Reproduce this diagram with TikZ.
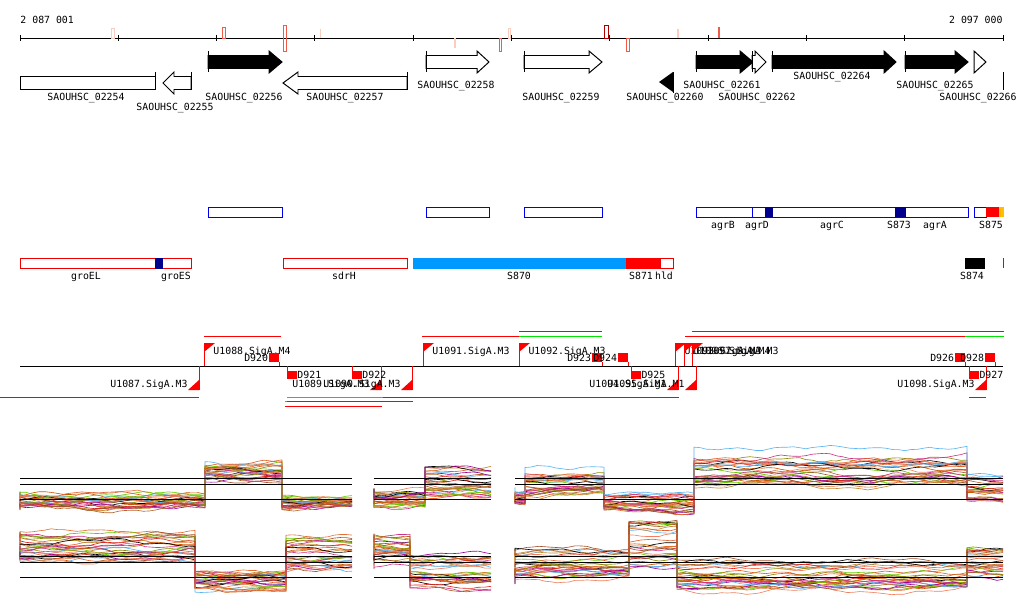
\documentclass[tikz,border=0pt]{standalone}
\usepackage{fontspec}
\newfontfamily\pixfont{DejaVu Sans Mono}
\usetikzlibrary{calc}
\definecolor{featred}{RGB}{238,0,0}
\definecolor{featblue}{RGB}{0,0,238}
\definecolor{navyblk}{RGB}{0,0,140}
\definecolor{skyfill}{RGB}{0,153,255}
\definecolor{amber}{RGB}{255,190,0}
\definecolor{promred}{RGB}{255,0,0}
\definecolor{promgreen}{RGB}{0,230,0}
\definecolor{peach}{RGB}{250,205,190}
\definecolor{salmon}{RGB}{240,90,70}
\definecolor{darkred}{RGB}{170,0,0}
% palette for the expression curves
\definecolor{pal0}{RGB}{0,0,0}
\definecolor{pal1}{RGB}{224,96,42}
\definecolor{pal2}{RGB}{160,82,45}
\definecolor{pal3}{RGB}{139,139,0}
\definecolor{pal4}{RGB}{102,204,0}
\definecolor{pal5}{RGB}{153,0,153}
\definecolor{pal6}{RGB}{204,51,136}
\definecolor{pal7}{RGB}{91,181,240}
\definecolor{pal8}{RGB}{230,110,50}
\definecolor{pal9}{RGB}{192,136,48}
\definecolor{pal10}{RGB}{221,34,34}
\definecolor{pal11}{RGB}{240,128,96}
\definecolor{pal12}{RGB}{180,100,40}
\definecolor{pal13}{RGB}{204,85,0}
\tikzset{
    lbl/.style = {font=\pixfont\fontsize{7}{8}\selectfont, inner sep=0pt, anchor=base},
    lblw/.style = {lbl, anchor=base west},
    lble/.style = {lbl, anchor=base east},
    genebody/.style = {draw=black},
    featbox/.style = {draw=featred},
    bluebox/.style = {draw=featblue},
    prom/.style = {draw=promred},
    tline/.style = {draw=promred},
    gline/.style = {draw=promgreen},
    exprline/.style = {line width=0.45pt},
    refline/.style = {draw=black, line width=0.6pt}
}
% forward gene: x0, tip, head start, y, fill
\def\genefwd#1#2#3#4#5{%
    \draw[genebody, fill=#5] (#1,#4-6.5) -- (#3,#4-6.5) -- (#3,#4-11) -- (#2,#4) -- (#3,#4+11) -- (#3,#4+6.5) -- (#1,#4+6.5) -- cycle;
    \draw[genebody] (#1,#4-11) -- (#1,#4+10);
}
% reverse gene: x0, tip, head start, y, fill
\def\generev#1#2#3#4#5{%
    \draw[genebody, fill=#5] (#1,#4-6.5) -- (#3,#4-6.5) -- (#3,#4-11) -- (#2,#4) -- (#3,#4+11) -- (#3,#4+6.5) -- (#1,#4+6.5) -- cycle;
    \draw[genebody] (#1,#4-11) -- (#1,#4+7);
}
\def\fprom#1#2#3{%
    \draw[prom] (#1,366) -- (#1,343);
    \fill[promred] (#1,343) -- ++(11,0) -- (#1,352) -- cycle;
    \node[lblw] (#2) at (#1+9,354) {#3};
}
\def\rprom#1#2#3{%
    \draw[prom] (#1,366) -- (#1,390);
    \fill[promred] (#1,390) -- ++(-11,0) -- (#1,380) -- cycle;
    \node[lble] (#2) at (#1-11,387) {#3};
}
\def\tabove#1#2#3{%
    \fill[promred] (#1,353) rectangle ++(10,9);
    \draw[prom] (#1+10,362) -- (#1+10,366);
    \node[lble] (#2) at (#1-0.5,361) {#3};
}
\def\tbelow#1#2#3{%
    \fill[promred] (#1,371) rectangle ++(10,8);
    \draw[prom] (#1,366) -- (#1,371);
    \node[lblw] (#2) at (#1+10,378) {#3};
}
% seed, x start, y low, y high, segments xa/xb/ya/yb/steps
\newcommand{\exprpanel}[5]{%
    \pgfmathsetseed{#1}
    \foreach \k in {1,...,28} {
        \pgfmathsetmacro{\fa}{rnd}
        \pgfmathsetmacro{\fb}{rnd}
        \pgfmathsetmacro{\ph}{360*rnd}
        \pgfmathsetmacro{\am}{1+2.5*rnd}
        \pgfmathtruncatemacro{\ci}{mod(\k*5+#1,14)}
        \draw[exprline, pal\ci] (#2,{#3+(#4-#3)*\fa})
            \foreach \xa/\xb/\ya/\yb/\ns [count=\sg] in {#5} {
                \foreach \i in {0,...,\ns} {
                    -- ({\xa+(\xb-\xa)*\i/\ns},{\ya+(\yb-\ya)*(\fa+(\fb-\fa)*0.4*mod(\sg,2))
                        +\am*sin((\xa+(\xb-\xa)*\i/\ns)*2.2+\ph)
                        +1.2*sin((\xa+(\xb-\xa)*\i/\ns)*7.5+2*\ph)+0.5*rand})
                }
            };
    }
}

\begin{document}
\begin{tikzpicture}[x=0.025cm, y=-0.025cm, line width=0.7pt]
    \useasboundingbox (0,0) rectangle (1024,611);
    \fill[white] (0,0) rectangle (1024,611);

    % ruler
    \node[lblw] (rstart) at (20,24) {2 087 001};
    \node[lble] (rend) at (1003,24) {2 097 000};
    \draw (20,38) -- (1003,38);
    \foreach \t in {0,...,10}
        \draw ({20+98.3*\t},35) -- ++(0,6);
    \draw[peach] (111.5,28) rectangle (114.5,38);
    \draw[salmon] (222.5,27) rectangle (225,38);
    \draw[salmon] (283,25) rectangle (286,51);
    \draw[peach, line width=1.4pt] (320.5,29) -- (320.5,38);
    \draw[peach, line width=1.4pt] (455,38) -- (455,48);
    \draw[salmon] (499,38) rectangle (501.5,51);
    \draw[peach] (508,28) rectangle (510.5,38);
    \draw[darkred] (604.5,25) rectangle (608.5,38);
    \draw[salmon] (626,38) rectangle (629,51);
    \draw[peach, line width=1.4pt] (678,29) -- (678,38);
    \draw[salmon, line width=1.4pt] (719,27) -- (719,38);

    % genes
    \draw[genebody, fill=white] (20,76.5) rectangle (155,89.5);
    \draw[genebody] (155,72) -- (155,90);
    \generev{191}{163}{174}{83}{white}
    \genefwd{208}{282}{269}{62}{black}
    \generev{407}{283}{298}{83}{white}
    \genefwd{426}{489}{477}{62}{white}
    \genefwd{524}{602}{589}{62}{white}
    \fill (673,72) -- (659,82) -- (673,92) -- cycle;
    \draw[genebody] (673,72) -- (673,93);
    \genefwd{696}{753}{740}{62}{black}
    \genefwd{752}{766}{755}{62}{white}
    \genefwd{772}{896}{884}{62}{black}
    \genefwd{905}{968}{955}{62}{black}
    \draw[genebody, fill=white] (974,51) -- (986,62) -- (974,73) -- cycle;
    \draw[genebody] (1003,72) -- (1003,90);
    \node[lbl] (g02254) at (86,101) {SAOUHSC\_02254};
    \node[lbl] (g02255) at (175,110) {SAOUHSC\_02255};
    \node[lbl] (g02256) at (244,101) {SAOUHSC\_02256};
    \node[lbl] (g02257) at (345,101) {SAOUHSC\_02257};
    \node[lbl] (g02258) at (456,89) {SAOUHSC\_02258};
    \node[lbl] (g02259) at (561,101) {SAOUHSC\_02259};
    \node[lbl] (g02260) at (665,101) {SAOUHSC\_02260};
    \node[lbl] (g02261) at (722,89) {SAOUHSC\_02261};
    \node[lbl] (g02262) at (757,101) {SAOUHSC\_02262};
    \node[lbl] (g02264) at (832,80) {SAOUHSC\_02264};
    \node[lbl] (g02265) at (935,89) {SAOUHSC\_02265};
    \node[lbl] (g02266) at (978,101) {SAOUHSC\_02266};

    % operon track
    \draw[bluebox] (208,207) rectangle (282,217);
    \draw[bluebox] (426,207) rectangle (489,217);
    \draw[bluebox] (524,207) rectangle (602,217);
    \draw[bluebox] (696,207) rectangle (968,217);
    \draw[bluebox] (752,207) -- (752,217);
    \fill[navyblk] (765,207) rectangle (773,217);
    \fill[navyblk] (895,207) rectangle (906,217);
    \draw[bluebox] (974,207) rectangle (986,217);
    \fill[promred] (986,207) rectangle (999,217);
    \fill[amber] (999,207) rectangle (1004,217);
    \node[lbl] (agrB) at (723,228) {agrB};
    \node[lbl] (agrD) at (757,228) {agrD};
    \node[lbl] (agrC) at (832,228) {agrC};
    \node[lbl] (s873) at (899,228) {S873};
    \node[lbl] (agrA) at (935,228) {agrA};
    \node[lbl] (s875) at (991,228) {S875};

    % feature track
    \draw[featbox] (20,258) rectangle (191,268);
    \fill[navyblk] (155,257.5) rectangle (163,268.5);
    \draw[featbox] (283,258) rectangle (407,268);
    \fill[skyfill] (413,257.5) rectangle (626,268.5);
    \fill[promred] (626,257.5) rectangle (660,268.5);
    \draw[featbox] (660,258) rectangle (673,268);
    \fill[black] (965,257.5) rectangle (985,268.5);
    \draw[featbox] (1003,258) -- (1003,268);
    \node[lbl] (groEL) at (86,279) {groEL};
    \node[lbl] (groES) at (176,279) {groES};
    \node[lbl] (sdrH) at (344,279) {sdrH};
    \node[lbl] (s870) at (519,279) {S870};
    \node[lbl] (s871) at (641,279) {S871};
    \node[lbl] (hld) at (664,279) {hld};
    \node[lbl] (s874) at (972,279) {S874};

    % promoters and terminators
    \draw[tline] (519,331) -- (602,331);
    \draw[tline] (692,331) -- (1004,331);
    \draw[tline] (204,336) -- (281,336);
    \draw[tline] (422,336) -- (519,336);
    \draw[gline] (519,336) -- (602,336);
    \draw[tline] (685,336) -- (965,336);
    \draw[gline] (965,336) -- (1004,336);
    \draw (20,366) -- (1003,366);
    \fprom{204}{u1088}{U1088.SigA.M4}
    \fprom{423}{u1091}{U1091.SigA.M3}
    \fprom{519}{u1092}{U1092.SigA.M3}
    \fprom{675}{u1093}{U1093.SigA.M3}
    \fprom{684}{u1096}{U1096.SigA.M4}
    \fprom{692}{u1097}{U1097.SigA.M3}
    \rprom{199}{u1087}{U1087.SigA.M3}
    \rprom{381}{u1089}{U1089.SigA.M3}
    \rprom{412}{u1090}{U1090.SigA.M3}
    \rprom{678}{u1094}{U1094.SigA.M1}
    \rprom{696}{u1095}{U1095.SigA.M1}
    \rprom{986}{u1098}{U1098.SigA.M3}
    \tabove{269}{d920}{D920}
    \tabove{592}{d923}{D923}
    \tabove{618}{d924}{D924}
    \tabove{955}{d926}{D926}
    \tabove{985}{d928}{D928}
    \tbelow{287}{d921}{D921}
    \tbelow{352}{d922}{D922}
    \tbelow{631}{d925}{D925}
    \tbelow{969}{d927}{D927}
    \draw[tline] (0,397) -- (199,397);
    \draw[gline] (287,397) -- (383,397);
    \draw[tline] (383,397) -- (679,397);
    \draw[tline] (969,397) -- (986,397);
    \draw[gline] (285,401) -- (287,401);
    \draw[tline] (287,401) -- (413,401);
    \draw[tline] (285,406) -- (382,406);

    % expression panels
    \exprpanel{3}{20}{490}{512}{20/205/490/512/30, 205/282/462/482/13, 282/352/496/509/12}
    \exprpanel{5}{374}{488}{508}{374/425/488/508/9, 425/491/468/497/11}
    \exprpanel{7}{515}{487}{505}{515/525/487/505/2, 525/604/466/497/13, 604/694/485/517/15, 694/967/447/488/44, 967/1003/463/508/6}
    \exprpanel{11}{20}{531}{567}{20/195/531/567/28, 195/286/572/593/15, 286/352/535/577/11}
    \exprpanel{13}{374}{533}{570}{374/410/533/570/6, 410/491/555/590/13}
    \exprpanel{17}{515}{548}{585}{515/629/548/585/19, 629/677/520/567/8, 677/967/560/597/46, 967/1003/548/577/6}
    \foreach \ya/\xa/\xb in {478/20/352, 484/20/352, 499/20/352, 478/374/491, 484/374/491, 499/374/491,
        478/515/1003, 484/515/1003, 499/515/1003, 556/20/352, 562/20/352, 577/20/352,
        556/374/491, 562/374/491, 577/374/491, 556/515/1003, 562/515/1003, 577/515/1003}
        \draw[refline] (\xa,\ya) -- (\xb,\ya);
\end{tikzpicture}
\end{document}
